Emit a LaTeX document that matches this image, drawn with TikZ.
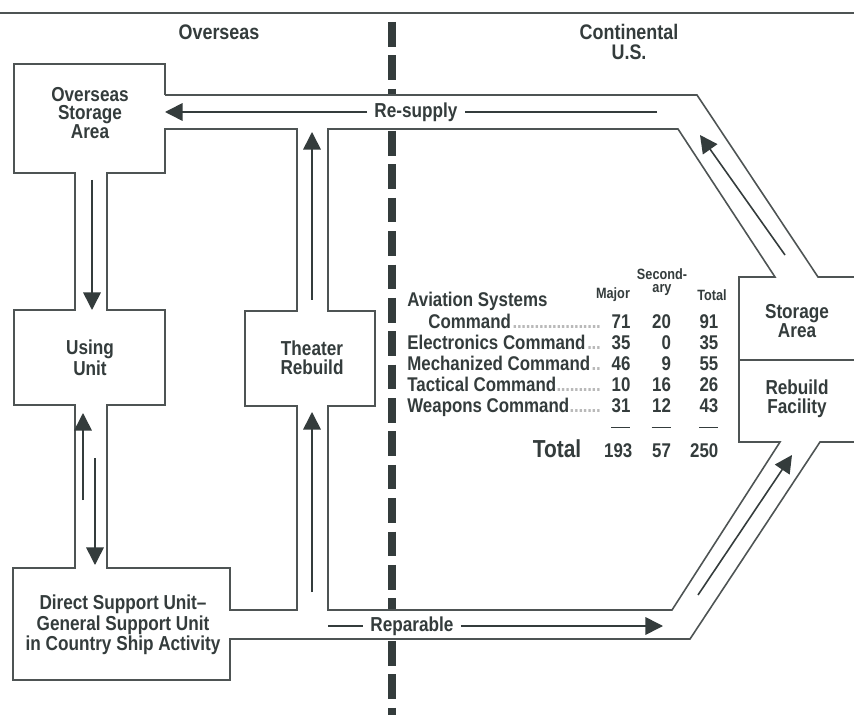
\documentclass[tikz,border=0pt]{standalone}
\usepackage{fontspec}
\setmainfont{Liberation Sans}[FakeStretch=0.85]
\usepackage{array}
\usetikzlibrary{arrows.meta}
\definecolor{ink}{RGB}{52,60,60}
\definecolor{wallgray}{RGB}{78,84,84}
\newcolumntype{N}[1]{>{\raggedleft\arraybackslash}p{#1}}
\newcommand{\dotlead}{{\color{gray!55}\leaders\hbox to 2.5pt{\hss.\hss}\hfill}}

\begin{document}
\begin{tikzpicture}[x=0.02cm,y=-0.02cm,
    wall/.style={draw=wallgray,line width=0.9pt},
    flow/.style={draw=ink,line width=0.9pt,-{Triangle[width=10pt,length=10pt]}},
    boxtext/.style={text=ink,font=\fontsize{11.5}{10.7}\selectfont\bfseries,align=center,inner sep=0pt},
    headtext/.style={text=ink,font=\fontsize{12}{11.5}\selectfont\bfseries,align=center,inner sep=0pt},
    flowtext/.style={text=ink,font=\fontsize{11.5}{11}\selectfont\bfseries,inner sep=4pt},
    colhead/.style={text=ink,font=\fontsize{8.5}{7.5}\selectfont\bfseries,align=center,inner sep=0pt},
    tabtext/.style={text=ink,font=\fontsize{11.3}{12}\selectfont\bfseries,inner sep=0pt}]
  \useasboundingbox[fill=white] (0,0) rectangle (854,715);

  % rule, divider and headings
  \draw[wallgray,line width=1.6pt] (0,13) -- (854,13);
  \draw[ink,line width=4pt,dash pattern=on 14pt off 5pt] (392,22) -- (392,95);
  \draw[ink,line width=4pt,dash pattern=on 14pt off 5pt] (392,131) -- (392,610);
  \draw[ink,line width=4pt,dash pattern=on 14pt off 5pt] (392,641) -- (392,715);
  \node[headtext] (overseas) at (219,32) {Overseas};
  \node[headtext] (conus) at (629,42) {Continental\\U.S.};

  % channel walls
  \draw[wall] (165,95) -- (165,64) -- (14,64) -- (14,173) -- (75,173) -- (75,310) -- (14,310)
    -- (14,405) -- (75,405) -- (75,568) -- (13,568) -- (13,680) -- (230,680) -- (230,639)
    -- (690,639) -- (820,442) -- (854,442);
  \draw[wall] (107,173) -- (165,173) -- (165,129) -- (297,129) -- (297,311) -- (245,311)
    -- (245,406) -- (297,406) -- (297,610) -- (230,610) -- (230,568) -- (107,568)
    -- (107,405) -- (165,405) -- (165,310) -- (107,310) -- cycle;
  \draw[wall] (328,129) -- (678,129) -- (775,277) -- (739,277) -- (739,442) -- (780,442)
    -- (672,610) -- (328,610) -- (328,406) -- (375,406) -- (375,311) -- (328,311) -- cycle;
  \draw[wall] (165,95) -- (697,95) -- (818,277) -- (854,277);
  \draw[wall] (739,360) -- (854,360);

  % boxes
  \node[boxtext] (osa) at (90,113) {Overseas\\Storage\\Area};
  \node[boxtext] (using) at (90,358) {Using\\Unit};
  \node[boxtext] (theater) at (312,358) {Theater\\Rebuild};
  \node[boxtext] (dsu) at (123,625) {Direct Support Unit--\\General Support Unit\\in Country Ship Activity};
  \node[boxtext] (storage) at (797,321) {Storage\\Area};
  \node[boxtext] (rebuild) at (797,399) {Rebuild\\Facility};

  % re-supply
  \node[flowtext] (resupply) at (416,112) {Re-supply};
  \coordinate (rs end) at (657,112);
  \coordinate (osa in) at (165,112);
  \draw[ink,line width=0.9pt] (rs end) -- (resupply.east);
  \draw[flow] (resupply.west) -- (osa in);
  \coordinate (up a) at (785,255);
  \coordinate (up b) at (700,135);
  \draw[flow] (up a) -- (up b);

  % reparable
  \node[flowtext] (reparable) at (412,626) {Reparable};
  \coordinate (rp start) at (328,626);
  \coordinate (rp end) at (663,626);
  \draw[ink,line width=0.9pt] (rp start) -- (reparable.west);
  \draw[flow] (reparable.east) -- (rp end);
  \coordinate (lo a) at (698,595);
  \coordinate (lo b) at (792,455);
  \draw[flow] (lo a) -- (lo b);

  % theater rebuild
  \coordinate (th a) at (312,300);
  \coordinate (th b) at (312,132);
  \draw[flow] (th a) -- (th b);
  \coordinate (th c) at (312,592);
  \coordinate (th d) at (312,412);
  \draw[flow] (th c) -- (th d);

  % using unit
  \coordinate (uu a) at (92,180);
  \coordinate (uu b) at (92,310);
  \draw[flow] (uu a) -- (uu b);
  \coordinate (uu c) at (83,500);
  \coordinate (uu d) at (83,413);
  \draw[flow] (uu c) -- (uu d);
  \coordinate (uu e) at (95,458);
  \coordinate (uu f) at (95,565);
  \draw[flow] (uu e) -- (uu f);

  % table
  \node[colhead] (major) at (613,295) {Major};
  \node[colhead] (second) at (662,282) {Second-\\ary};
  \node[colhead] (totalhead) at (712,295) {Total};
  \node[tabtext,anchor=base west] (table) at (407,307) {%
    \begin{tabular}[t]{@{}p{112pt}@{}N{15pt}@{}N{23pt}@{}N{27pt}@{}}
      Aviation Systems &&&\\
      \hspace*{12pt}Command\dotlead & 71 & 20 & 91\\
      Electronics Command\dotlead & 35 & 0 & 35\\
      Mechanized Command\dotlead & 46 & 9 & 55\\
      Tactical Command\dotlead & 10 & 16 & 26\\
      Weapons Command\dotlead & 31 & 12 & 43\\
      & \rule[3pt]{11pt}{0.8pt} & \rule[3pt]{11pt}{0.8pt} & \rule[3pt]{11pt}{0.8pt}\\
      \multicolumn{1}{@{}r@{\hspace{13pt}}}{\fontsize{14}{14}\selectfont Total} & 193 & 57 & 250
    \end{tabular}};
\end{tikzpicture}
\end{document}
